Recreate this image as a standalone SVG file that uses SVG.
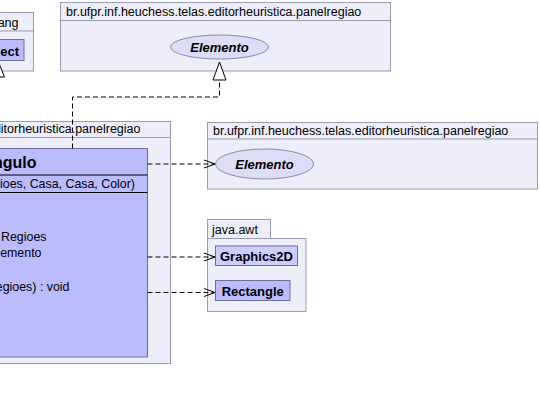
<svg xmlns="http://www.w3.org/2000/svg" width="540" height="403" viewBox="0 0 540 403">
<defs>
<style>
.pkg{fill:#EEEEFA;stroke:#9A9AB0;stroke-width:1}
.cls{fill:#BBBBFF;stroke:#6E6E9A;stroke-width:1}
.abs{fill:#CCCCFF;stroke:#6E6E9A;stroke-width:1}
.ifc{fill:#DDDDF8;stroke:#8A8AB0;stroke-width:1}
.pt{font-family:"Liberation Sans",Arial,sans-serif;font-size:12.5px;fill:#000}
.t{font-family:"Liberation Sans",Arial,sans-serif;font-size:12.4px;fill:#000}
.b{font-family:"Liberation Sans",Arial,sans-serif;font-size:13px;font-weight:bold;fill:#000}
.bi{font-family:"Liberation Sans",Arial,sans-serif;font-size:13px;font-weight:bold;font-style:italic;fill:#000}
.big{font-family:"Liberation Sans",Arial,sans-serif;font-size:16px;font-weight:bold;fill:#000}
.dash{fill:none;stroke:#000;stroke-width:1;stroke-dasharray:5,3}
.head{fill:none;stroke:#000;stroke-width:1}
.tri{fill:#fff;stroke:#000;stroke-width:1}
</style>
<marker id="open" markerWidth="12" markerHeight="10" refX="11" refY="5" orient="auto" markerUnits="userSpaceOnUse">
<path d="M0,1 L11,5 L0,9" class="head"/>
</marker>
</defs>

<g id="pkg-java-lang">
<rect class="pkg" x="-40" y="12.5" width="73.5" height="58.5"/>
<line x1="-40" y1="31" x2="33.5" y2="31" stroke="#9A9AB0"/>
<text class="pt" x="18.5" y="27" text-anchor="end">ang</text>
</g>
<g id="node-object">
<rect class="cls" x="-40" y="39.5" width="64" height="21"/>
<text class="b" x="19" y="55.5" text-anchor="end">ect</text>
</g>

<g id="pkg-top">
<rect class="pkg" x="60.5" y="2.5" width="330" height="68.5"/>
<line x1="60.5" y1="20.5" x2="390.5" y2="20.5" stroke="#9A9AB0"/>
<text class="pt" x="66" y="16">br.ufpr.inf.heuchess.telas.editorheuristica.panelregiao</text>
</g>
<g id="node-elemento-top">
<ellipse class="ifc" cx="219.5" cy="47" rx="49" ry="12"/>
<text class="bi" x="219.5" y="51.5" text-anchor="middle">Elemento</text>
</g>

<g id="pkg-main">
<rect class="pkg" x="-40" y="121.5" width="210.5" height="242"/>
<line x1="-40" y1="137.5" x2="170.5" y2="137.5" stroke="#9A9AB0"/>
<text class="pt" x="140.5" y="133" text-anchor="end">ditorheuristica.panelregiao</text>
</g>
<g id="node-main-class">
<rect class="cls" x="-40" y="148.5" width="187.5" height="208.5"/>
<line x1="-40" y1="175" x2="147.5" y2="175" stroke="#000"/>
<line x1="-40" y1="192.5" x2="147.5" y2="192.5" stroke="#000"/>
<text class="big" x="36.5" y="168" text-anchor="end">angulo</text>
<text class="t" x="135" y="188" text-anchor="end">ioes, Casa, Casa, Color)</text>
<text class="t" x="46.5" y="241" text-anchor="end">Regioes</text>
<text class="t" x="41.5" y="257" text-anchor="end">emento</text>
<text class="t" x="69.5" y="291" text-anchor="end">egioes) : void</text>
</g>

<g id="pkg-right">
<rect class="pkg" x="207.5" y="122.5" width="330" height="66.5"/>
<line x1="207.5" y1="139" x2="537.5" y2="139" stroke="#9A9AB0"/>
<text class="pt" x="213" y="135">br.ufpr.inf.heuchess.telas.editorheuristica.panelregiao</text>
</g>
<g id="node-elemento-right">
<ellipse class="ifc" cx="264.5" cy="164" rx="49" ry="15"/>
<text class="bi" x="264.5" y="168.5" text-anchor="middle">Elemento</text>
</g>

<g id="pkg-java-awt">
<rect class="pkg" x="207.5" y="219.5" width="63" height="19"/>
<rect class="pkg" x="207.5" y="238.5" width="98.5" height="73"/>
<text class="pt" x="212" y="234">java.awt</text>
</g>
<g id="node-graphics2d">
<rect class="abs" x="215.5" y="246" width="82" height="19.5"/>
<text class="b" x="256.5" y="261" text-anchor="middle">Graphics2D</text>
</g>
<g id="node-rectangle">
<rect class="cls" x="215.5" y="280.5" width="74.5" height="20"/>
<text class="b" x="252.75" y="295.5" text-anchor="middle">Rectangle</text>
</g>

<g id="connectors">
<path class="dash" d="M72.5,148.5 V97 H219.5 V80"/>
<polygon class="tri" points="219.5,62 213,80 226,80"/>
<path class="dash" d="M-2,148 V77"/>
<polygon class="tri" points="-2,61 -8.5,77 4.5,77"/>
<line class="dash" x1="147.5" y1="164" x2="215" y2="164" marker-end="url(#open)"/>
<line class="dash" x1="147.5" y1="257" x2="215" y2="257" marker-end="url(#open)"/>
<line class="dash" x1="147.5" y1="292.5" x2="215" y2="292.5" marker-end="url(#open)"/>
</g>
</svg>
